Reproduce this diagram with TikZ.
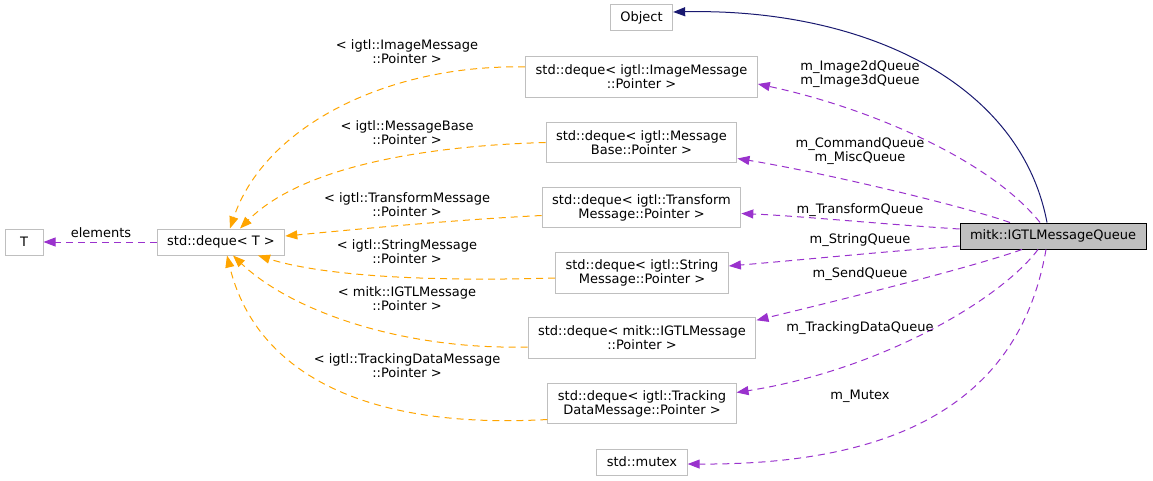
\documentclass[tikz,border=0pt]{standalone}
\usepackage{fontspec}
\setmainfont{DejaVu Sans}
\usepackage{tikz}
\usetikzlibrary{arrows.meta,calc,positioning}
\definecolor{grisborde}{HTML}{BFBFBF}
\definecolor{orquidea}{HTML}{9A32CD}
\definecolor{naranja}{HTML}{FFA500}
\definecolor{azulnoche}{HTML}{191970}
\tikzset{
  clase/.style={
    draw=grisborde,
    fill=white,
    line width=1pt,
    align=center,
    inner xsep=10pt,
    inner ysep=5pt,
    minimum height=26pt,
    font=\fontsize{13}{14}\selectfont
  },
  doble/.style={
    minimum height=40.5pt
  },
  raiz/.style={
    draw=black,
    fill=grisborde
  },
  etiqueta/.style={
    align=center,
    inner sep=0pt,
    font=\fontsize{13}{14}\selectfont
  },
  flecha/.style={
    -{Triangle[length=12pt,width=9pt]},
    line width=1pt
  },
  herencia/.style={
    flecha,
    azulnoche
  },
  miembro/.style={
    flecha,
    orquidea,
    dash pattern=on 7pt off 5pt
  },
  plantilla/.style={
    flecha,
    naranja,
    dash pattern=on 7pt off 5pt
  }
}
\begin{document}
\begin{tikzpicture}[x=1pt, y=-1pt]
\useasboundingbox (0,0) rectangle (1153,481);
% clases
\node[clase] (object) at (641.5,18) {Object};
\node[clase, doble] (imgq) at (641.5,77) {std::deque< igtl::ImageMessage\\::Pointer >};
\node[clase, doble] (baseq) at (641.5,142.5) {std::deque< igtl::Message\\Base::Pointer >};
\node[clase, doble] (transq) at (641.5,207.5) {std::deque< igtl::Transform\\Message::Pointer >};
\node[clase, doble] (strq) at (642,273) {std::deque< igtl::String\\Message::Pointer >};
\node[clase, doble] (igtlq) at (642,338) {std::deque< mitk::IGTLMessage\\::Pointer >};
\node[clase, doble] (trackq) at (642,403.5) {std::deque< igtl::Tracking\\DataMessage::Pointer >};
\node[clase] (mutex) at (642,462) {std::mutex};
\node[clase, raiz] (queue) at (1053,236) {mitk::IGTLMessageQueue};
\node[clase] (dequet) at (221,242) {std::deque< T >};
\node[clase, minimum width=38pt] (t) at (24,242) {T};
% herencia
\draw[herencia] ($(queue.north)+(-6,0)$) .. controls (1020,80) and (860,8) .. ($(object.east)+(0,-6)$);
% miembros
\draw[miembro] ($(queue.north)+(-13,0)$) .. controls (990,160) and (870,108) .. ($(imgq.east)+(0,7)$);
\draw[miembro] ($(queue.north)+(-43,0)$) .. controls (960,205) and (820,172) .. ($(baseq.east)+(0,16)$);
\draw[miembro] ($(queue.west)+(0,-7)$) .. controls (880,224) and (800,216) .. ($(transq.east)+(0,6)$);
\draw[miembro] ($(queue.west)+(0,10)$) .. controls (880,252) and (800,260) .. ($(strq.east)+(0,-7)$);
\draw[miembro] ($(queue.south)+(-31,0)$) .. controls (970,268) and (840,300) .. ($(igtlq.north east)+(0,3)$);
\draw[miembro] ($(queue.south)+(-15,0)$) .. controls (1000,300) and (880,370) .. ($(trackq.east)+(0,-11)$);
\draw[miembro] ($(queue.south)+(-7,0)$) .. controls (1020,400) and (900,465) .. ($(mutex.east)+(0,2)$);
\draw[miembro] (dequet.west) -- (t.east);
% plantillas
\draw[plantilla] ($(imgq.west)+(0,-10)$) .. controls (390,64) and (265,125) .. ($(dequet.north)+(9,0)$);
\draw[plantilla] (baseq.west) .. controls (420,146) and (300,168) .. ($(dequet.north)+(19,0)$);
\draw[plantilla] ($(transq.west)+(0,8)$) .. controls (450,220) and (350,230) .. ($(dequet.east)+(0,-6)$);
\draw[plantilla] ($(strq.west)+(0,5)$) .. controls (420,282) and (320,275) .. ($(dequet.south)+(37,0)$);
\draw[plantilla] ($(igtlq.west)+(0,9)$) .. controls (400,350) and (290,310) .. ($(dequet.south)+(12,0)$);
\draw[plantilla] ($(trackq.west)+(0,16)$) .. controls (360,430) and (255,370) .. ($(dequet.south)+(6,0)$);
% etiquetas
\node[etiqueta] (lelem) at (101,233) {elements};
\node[etiqueta] (limg) at (860,74) {m\_Image2dQueue\\m\_Image3dQueue};
\node[etiqueta] (lbase) at (860,151) {m\_CommandQueue\\m\_MiscQueue};
\node[etiqueta] (ltrans) at (860,210) {m\_TransformQueue};
\node[etiqueta] (lstr) at (860,240) {m\_StringQueue};
\node[etiqueta] (lsend) at (860,274) {m\_SendQueue};
\node[etiqueta] (ltrack) at (860,328) {m\_TrackingDataQueue};
\node[etiqueta] (lmutex) at (860,396) {m\_Mutex};
\node[etiqueta] (timg) at (407,52) {< igtl::ImageMessage\\::Pointer >};
\node[etiqueta] (tbase) at (407,133) {< igtl::MessageBase\\::Pointer >};
\node[etiqueta] (ttrans) at (407,205) {< igtl::TransformMessage\\::Pointer >};
\node[etiqueta] (tstr) at (407,252) {< igtl::StringMessage\\::Pointer >};
\node[etiqueta] (tigtl) at (407,299) {< mitk::IGTLMessage\\::Pointer >};
\node[etiqueta] (ttrack) at (407,366) {< igtl::TrackingDataMessage\\::Pointer >};
\end{tikzpicture}
\end{document}
